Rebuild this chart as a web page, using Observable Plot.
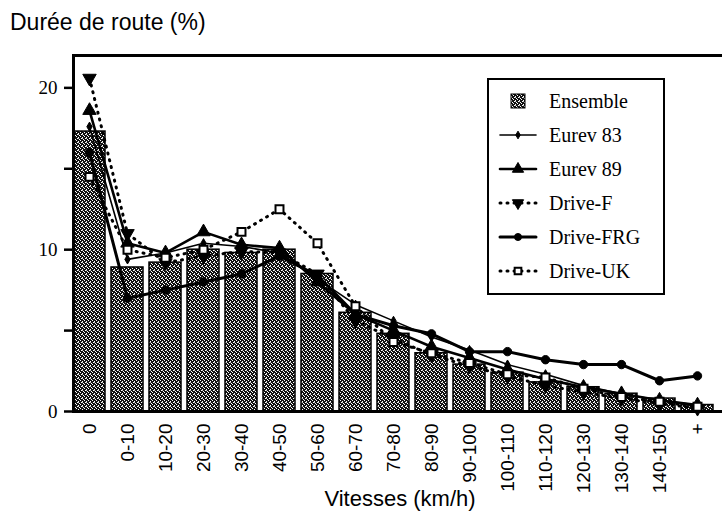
<!DOCTYPE html>
<html>
<head>
<meta charset="utf-8">
<script src="https://cdn.jsdelivr.net/npm/d3@7"></script>
<script src="https://cdn.jsdelivr.net/npm/@observablehq/plot@0.6"></script>
<style>
  body { margin: 0; background: #fff; }
  #wrap { position: relative; width: 722px; height: 520px; overflow: hidden; }
  #chart { position: absolute; left: 0; top: 0; }
  #box { position: absolute; border-top: 3px solid #000; border-left: 3px solid #000; border-bottom: 3px solid #000; box-sizing: border-box; pointer-events: none; z-index: 1; }
  #title { position: absolute; left: 10px; top: 9px; font: 23px "Liberation Sans", Arial, sans-serif; color: #000; }
  #xlabel { position: absolute; left: 0; width: 800px; top: 486px; text-align: center; font: 22px "Liberation Sans", Arial, sans-serif; color: #000; }
  #legend { position: absolute; z-index: 2; left: 487px; top: 78px; width: 178px; height: 217px; border: 2px solid #000; background: #fff; box-sizing: border-box; font: 20px "Liberation Serif", "DejaVu Serif", serif; }
  .row { position: absolute; left: 0; height: 34px; display: flex; align-items: center; }
  .row svg { margin-left: 8px; margin-right: 10px; }
</style>
</head>
<body>
<div id="wrap">
  <div id="chart"></div>
  <div id="box"></div>
  <div id="title">Durée de route (%)</div>
  <div id="xlabel">Vitesses (km/h)</div>
  <div id="legend"></div>
</div>
<script>
const categories = ["0","0-10","10-20","20-30","30-40","40-50","50-60","60-70","70-80","80-90","90-100","100-110","110-120","120-130","130-140","140-150","+"];
const ensemble  = [17.3, 8.9, 9.2, 10.0, 9.8, 10.0, 8.5, 6.1, 4.8, 3.6, 2.9, 2.4, 1.8, 1.5, 1.1, 0.8, 0.4];
const eurev83   = [17.6, 9.4, 9.8, 10.4, 10.2, 9.8, 8.2, 6.6, 5.6, 4.6, 3.8, 2.9, 2.3, 1.6, 1.1, 0.7, 0.4];
const eurev89   = [18.6, 10.4, 9.8, 11.1, 10.3, 10.1, 8.0, 6.0, 5.0, 4.0, 3.3, 2.6, 2.0, 1.5, 1.1, 0.7, 0.4];
const driveF    = [20.6, 11.0, 9.2, 9.6, 9.9, 9.8, 8.5, 5.6, 4.5, 3.5, 2.8, 2.2, 1.6, 1.2, 0.8, 0.5, 0.2];
const driveFRG  = [16.0, 7.0, 7.5, 8.0, 8.5, 9.6, 8.4, 6.0, 5.3, 4.8, 3.7, 3.7, 3.2, 2.9, 2.9, 1.9, 2.2];
const driveUK   = [14.5, 10.0, 9.5, 10.0, 11.1, 12.5, 10.4, 6.5, 4.3, 3.6, 3.0, 2.3, 2.1, 1.4, 0.9, 0.6, 0.3];
const yTicks = [0, 5, 10, 15, 20];
const yLabels = [0, 10, 20];
const yMax = 22;

const seriesDefs = [
  {name: "Eurev 83",  values: eurev83,  width: 1.6, dash: null,  symbol: "diamond",  r: 2.8, fill: "#000", rotate: 0},
  {name: "Eurev 89",  values: eurev89,  width: 2.6, dash: null,  symbol: "triangle", r: 5,   fill: "#000", rotate: 0},
  {name: "Drive-F",   values: driveF,   width: 3,   dash: "1,6", symbol: "triangle", r: 5,   fill: "#000", rotate: 180},
  {name: "Drive-FRG", values: driveFRG, width: 3,   dash: null,  symbol: "circle",   r: 4.2, fill: "#000", rotate: 0},
  {name: "Drive-UK",  values: driveUK,  width: 3,   dash: "1,6", symbol: "square",   r: 4.5, fill: "#fff", rotate: 0}
];

const barData = categories.map((c, i) => ({cat: c, v: ensemble[i]}));
const marks = [
  Plot.barY(barData, {x: "cat", y: "v", fill: "url(#hatch)", stroke: "#000", strokeWidth: 1.5})
];
for (const s of seriesDefs) {
  const d = categories.map((c, i) => ({cat: c, v: s.values[i]}));
  marks.push(Plot.line(d, {x: "cat", y: "v", stroke: "#000", strokeWidth: s.width, strokeDasharray: s.dash, strokeLinecap: "round", strokeLinejoin: "round"}));
  marks.push(Plot.dot(d, {x: "cat", y: "v", symbol: s.symbol, r: s.r, fill: s.fill, stroke: "#000", strokeWidth: s.fill === "#fff" ? 2 : 1, rotate: s.rotate}));
}

const chart = Plot.plot({
  width: 722,
  height: 520,
  marginTop: 55,
  marginLeft: 73,
  marginRight: -4,
  marginBottom: 109,
  style: {background: "#fff", color: "#000", overflow: "visible"},
  x: {domain: categories, paddingInner: 0.17, paddingOuter: 0.02, align: 0, label: null},
  y: {domain: [0, yMax], label: null},
  marks: [
    ...marks,
    Plot.frame({stroke: "#000", strokeWidth: 3}),
    Plot.axisX({tickSize: 0, tickPadding: 12, tickRotate: -90, fontSize: 19, fontFamily: "Liberation Sans, Arial, sans-serif", label: null}),
    Plot.axisY({ticks: yTicks, tickFormat: d => yLabels.includes(d) ? String(d) : "", tickSize: 9, tickPadding: 7, strokeWidth: 2.5, fontSize: 19, fontFamily: "Liberation Serif, serif", label: null})
  ]
});

// hatch pattern for the bars
const ns = "http://www.w3.org/2000/svg";
const defs = document.createElementNS(ns, "defs");
defs.innerHTML = `<pattern id="hatch" width="4" height="4" patternUnits="userSpaceOnUse">
  <rect width="4" height="4" fill="#111"/>
  <rect x="0" y="0" width="1" height="1" fill="#fff"/>
  <rect x="2" y="1" width="1" height="1" fill="#fff"/>
  <rect x="1" y="2" width="1" height="1" fill="#fff"/>
  <rect x="3" y="3" width="1" height="1" fill="#fff"/>
  <rect x="2" y="2" width="1" height="1" fill="#bbb"/>
</pattern>`;
chart.appendChild(defs);
document.getElementById("chart").appendChild(chart);

// plot box (top, left, bottom) aligned with the Plot scales
try {
  const yScale = chart.scale("y"), xScale = chart.scale("x");
  const boxEl = document.getElementById("box");
  const boxTop = yScale.apply(yMax), boxBottom = yScale.apply(0), boxLeft = xScale.range[0];
  boxEl.style.left = (boxLeft - 1.5) + "px";
  boxEl.style.top = (boxTop - 1.5) + "px";
  boxEl.style.width = (726 - boxLeft) + "px";
  boxEl.style.height = (boxBottom - boxTop + 3) + "px";
} catch (e) {}

// legend
const legendEl = document.getElementById("legend");
const legendItems = [{name: "Ensemble", bar: true}, ...seriesDefs];
legendItems.forEach((s, i) => {
  const row = document.createElement("div");
  row.className = "row";
  row.style.top = (4 + i * 34) + "px";
  let sw;
  if (s.bar) {
    sw = `<svg width="42" height="20"><rect x="14" y="3" width="14" height="14" fill="url(#hatch)" stroke="#000"/></svg>`;
  } else {
    const sym = d3.symbol().type({diamond: d3.symbolDiamond, triangle: d3.symbolTriangle, circle: d3.symbolCircle, square: d3.symbolSquare}[s.symbol]).size(s.r * s.r * 2.2)();
    sw = `<svg width="42" height="20"><line x1="3" y1="10" x2="39" y2="10" stroke="#000" stroke-width="${s.width}" ${s.dash ? `stroke-dasharray="${s.dash}"` : ""} stroke-linecap="round"/>
      <path d="${sym}" transform="translate(21,10) rotate(${s.rotate})" fill="${s.fill}" stroke="#000" stroke-width="${s.fill === "#fff" ? 2 : 1}"/></svg>`;
  }
  row.innerHTML = sw + `<span>${s.name}</span>`;
  legendEl.appendChild(row);
});
</script>
</body>
</html>
